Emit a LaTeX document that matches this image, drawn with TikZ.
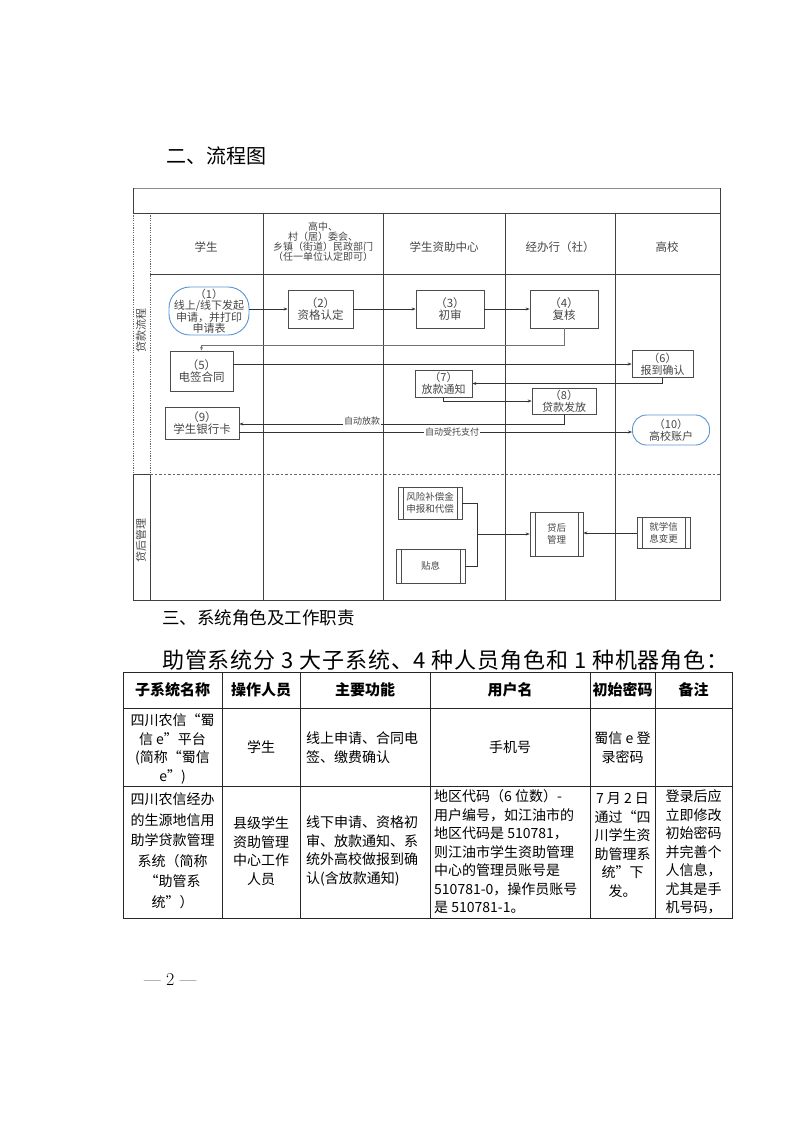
\documentclass[tikz,border=0pt]{standalone}
\usepackage{fontspec}
\newfontfamily\cjk{Noto Sans CJK SC}
\newfontfamily\cjkwide[LetterSpace=4]{Noto Sans CJK SC}
\usetikzlibrary{arrows.meta,calc}
\definecolor{stadblue}{RGB}{91,150,210}
\definecolor{fctext}{RGB}{70,70,70}
\begin{document}
\begin{tikzpicture}[x=1pt,y=-1pt,
  ln/.style={draw=black!80, line width=0.7pt},
  arr/.style={ln, -{Stealth[length=4pt,width=3pt]}},
  frame/.style={draw=black!75, line width=0.8pt},
  dotl/.style={draw=black!60, line width=0.8pt, dash pattern=on 1.2pt off 1.2pt},
  dashl/.style={draw=black!60, line width=0.7pt, dash pattern=on 2.5pt off 2pt},
  box/.style={draw=black!70, line width=0.7pt, fill=white, align=center, inner sep=0pt,
    font=\cjk\fontsize{11.5}{12}\selectfont, text=fctext},
  stad/.style={box, draw=stadblue, line width=0.9pt},
  subproc/.style={box, font=\cjk\fontsize{9.5}{12}\selectfont,
    path picture={\draw[black!70,line width=0.6pt]
      ([xshift=5pt]path picture bounding box.north west) -- ([xshift=5pt]path picture bounding box.south west)
      ([xshift=-5pt]path picture bounding box.north east) -- ([xshift=-5pt]path picture bounding box.south east);}},
  lab/.style={font=\cjk\fontsize{9}{9}\selectfont, fill=white, inner sep=1pt, text=fctext},
  hdr/.style={font=\cjk\fontsize{11.5}{12}\selectfont, text=fctext, align=center, inner sep=0pt},
  lane/.style={font=\cjk\fontsize{11}{11}\selectfont, text=fctext, rotate=90, inner sep=0pt},
  tline/.style={draw=black!85, line width=0.8pt},
  th/.style={font=\cjk\bfseries\fontsize{15}{18}\selectfont, inner sep=0pt},
  td/.style={font=\cjk\fontsize{14}{18.5}\selectfont, inner sep=0pt, align=center},
  tdl/.style={font=\cjk\fontsize{14}{18.5}\selectfont, inner sep=0pt, align=left, anchor=west}
]
\useasboundingbox (0,0) rectangle (793,1122);
\fill[white] (0,0) rectangle (793,1122);

% headings
\node[anchor=west, inner sep=0pt, font=\cjk\fontsize{20}{22}\selectfont] (h2) at (166,156) {二、流程图};
\node[anchor=west, inner sep=0pt, font=\cjk\fontsize{17.5}{20}\selectfont] (h3) at (162,618) {三、系统角色及工作职责};
\node[anchor=west, inner sep=0pt, font=\cjkwide\fontsize{22}{24}\selectfont] (intro) at (162,660) {助管系统分 3 大子系统、4 种人员角色和 1 种机器角色：};
\node[anchor=west, inner sep=0pt, font=\fontsize{18}{20}\selectfont] (pg) at (144,980) {— 2 —};

% ---------- flowchart frame ----------
\draw[draw=black!45, line width=0.8pt] (133,188) -- (720,188);
\draw[frame] (720,188) -- (720,600) -- (133,600);
\draw[frame] (133,188) -- (133,213);
\draw[dotl] (133,213) -- (133,474);
\draw[frame] (133,474) -- (133,600);
\draw[dotl] (150,213) -- (150,474);
\draw[frame] (150,474) -- (150,600);
\draw[frame] (133,213) -- (720,213);
\draw[frame] (150,274) -- (720,274);
\draw[frame] (133,474) -- (150,474);
\draw[dashl] (150,474) -- (720,474);
\foreach \xx in {263,383,505,615} \draw[frame] (\xx,213) -- (\xx,600);

% header
\node[hdr] (c1) at (206,247) {学生};
\node[hdr, font=\cjk\fontsize{10}{10}\selectfont] (c2) at (323,242) {高中、\\村（居）委会、\\乡镇（街道）民政部门\\（任一单位认定即可）};
\node[hdr] (c3) at (444,247) {学生资助中心};
\node[hdr] (c4) at (560,247) {经办行（社）};
\node[hdr] (c5) at (667,247) {高校};

% lane labels
\node[lane] (l1) at (141,330) {贷款流程};
\node[lane] (l2) at (141,540) {贷后管理};

% nodes
\node[stad, minimum width=80pt, minimum height=48pt, rounded corners=21pt, font=\cjk\fontsize{11}{11.5}\selectfont] (n1) at (209,311) {（1）\\线上/线下发起\\申请，并打印\\申请表};
\node[box, minimum width=65pt, minimum height=38pt] (n2) at (320.5,309) {（2）\\资格认定};
\node[box, minimum width=68pt, minimum height=38pt] (n3) at (450,309) {（3）\\初审};
\node[box, minimum width=68pt, minimum height=38pt] (n4) at (564,309) {（4）\\复核};
\node[box, minimum width=63pt, minimum height=40pt] (n5) at (201.5,371) {（5）\\电签合同};
\node[box, minimum width=61pt, minimum height=27pt, font=\cjk\fontsize{11}{12}\selectfont] (n6) at (662.5,364) {（6）\\报到确认};
\node[box, minimum width=57pt, minimum height=27pt, font=\cjk\fontsize{11}{12}\selectfont] (n7) at (443.5,383.5) {（7）\\放款通知};
\node[box, minimum width=64pt, minimum height=26pt, font=\cjk\fontsize{11}{12}\selectfont] (n8) at (564,401) {（8）\\贷款发放};
\node[box, minimum width=74pt, minimum height=32pt] (n9) at (202,423) {（9）\\学生银行卡};
\node[stad, minimum width=77pt, minimum height=30pt, rounded corners=14pt, font=\cjk\fontsize{11}{12}\selectfont] (n10) at (671,430) {（10）\\高校账户};

\node[subproc, minimum width=64pt, minimum height=32pt] (nA) at (430,503) {风险补偿金\\申报和代偿};
\node[subproc, minimum width=69pt, minimum height=34pt] (nB) at (430.5,566) {贴息};
\node[subproc, minimum width=53pt, minimum height=44pt] (nC) at (556.5,534) {贷后\\管理};
\node[subproc, minimum width=53pt, minimum height=31pt] (nD) at (663.5,533) {就学信\\息变更};

% connectors
\draw[arr] (n1.east |- n2.west) -- (n2.west);
\draw[arr] (n2.east) -- (n3.west);
\draw[arr] (n3.east) -- (n4.west);
\draw[ln, draw=black!55, -{Stealth[length=4pt,width=3pt]}] (n4.south) -- ++(0,17) -| (n5.north);
\coordinate (p5) at ([yshift=7pt]n5.east);
\draw[arr] (p5) -- (n6.west |- p5);
\draw[arr] (n6.south) |- (n7.east);
\draw[arr] (n7.south) |- (n8.west);
\coordinate (p9a) at ([yshift=-1pt]n9.east);
\draw[arr] (n8.south) |- (p9a);
\coordinate (p9b) at ([yshift=-9pt]n9.east);
\draw[arr] (p9b) -- (n10.west |- p9b);
\node[lab] (t1) at (362,421) {自动放款};
\node[lab] (t2) at (452,432) {自动受托支付};

\coordinate (j) at (477,534);
\draw[ln] (nA.east) -| (j);
\draw[ln] (nB.east) -| (j);
\draw[arr] (j) -- (nC.west);
\draw[arr] (nD.west) -- (nC.east |- nD.west);

% ---------- table ----------
\draw[tline] (123,672) rectangle (732,918);
\draw[tline] (123,708) -- (732,708);
\draw[tline] (123,786) -- (732,786);
\foreach \xx in {222,300,430,590,655} \draw[tline] (\xx,672) -- (\xx,918);

\node[th] (th1) at (172.5,690) {子系统名称};
\node[th] (th2) at (261,690) {操作人员};
\node[th] (th3) at (365,690) {主要功能};
\node[th] (th4) at (510,690) {用户名};
\node[th] (th5) at (622.5,690) {初始密码};
\node[th] (th6) at (693.5,690) {备注};

\node[td] (r1c1) at (172.5,749) {四川农信“蜀\\信 e”平台\\(简称“蜀信\\e”)};
\node[td] (r1c2) at (261,747) {学生};
\node[tdl] (r1c3) at (306,747.5) {线上申请、合同电\\签、缴费确认};
\node[td] (r1c4) at (510,747) {手机号};
\node[td] (r1c5) at (622.5,747.5) {蜀信 e 登\\录密码};

\node[td, font=\cjk\fontsize{14}{20.5}\selectfont] (r2c1) at (172.5,851) {四川农信经办\\的生源地信用\\助学贷款管理\\系统（简称\\“助管系\\统”）};
\node[td] (r2c2) at (261,851) {县级学生\\资助管理\\中心工作\\人员};
\node[tdl] (r2c3) at (306,851) {线下申请、资格初\\审、放款通知、系\\统外高校做报到确\\认(含放款通知)};
\node[tdl] (r2c4) at (434,852) {地区代码（6 位数）-\\用户编号，如江油市的\\地区代码是 510781，\\则江油市学生资助管理\\中心的管理员账号是\\510781-0，操作员账号\\是 510781-1。};
\node[td] (r2c5) at (622.5,845) {7 月 2 日\\通过“四\\川学生资\\助管理系\\统”下\\发。};
\node[td] (r2c6) at (693.5,852) {登录后应\\立即修改\\初始密码\\并完善个\\人信息，\\尤其是手\\机号码，};
\end{tikzpicture}
\end{document}
